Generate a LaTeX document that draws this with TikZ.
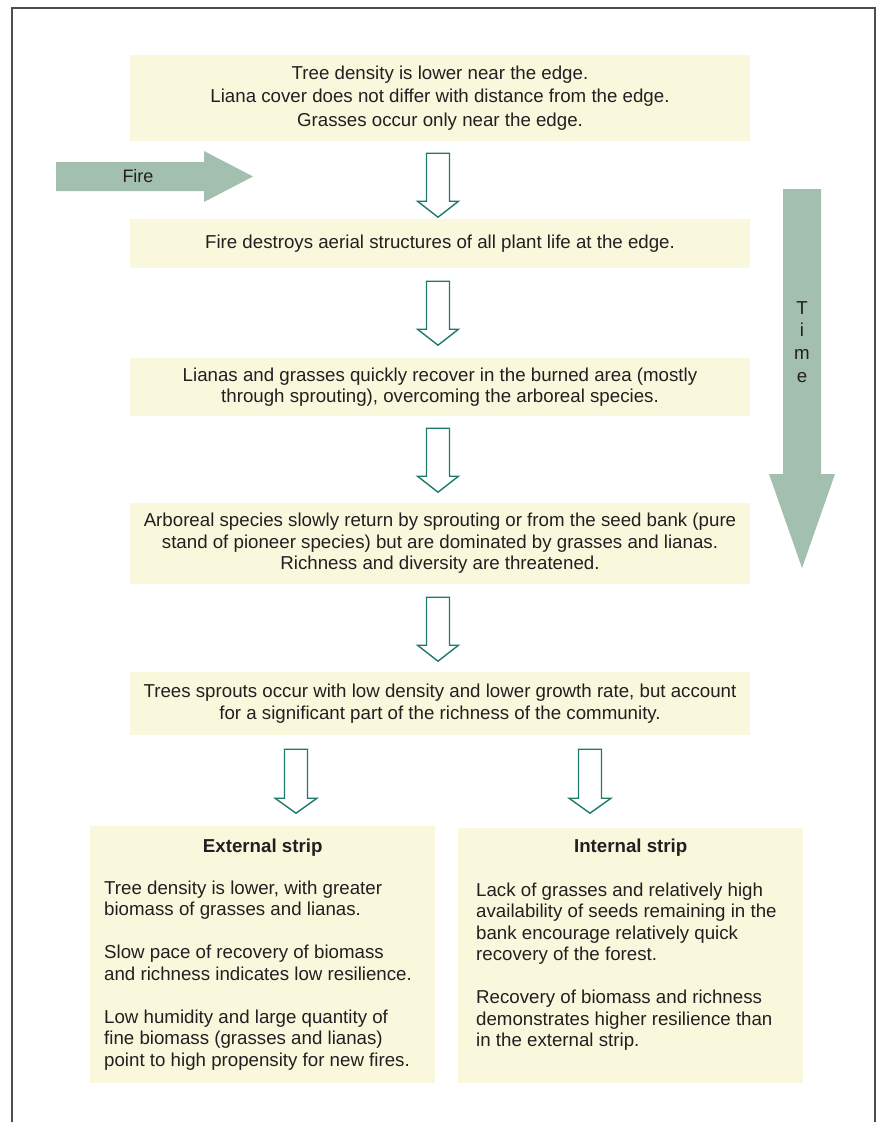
\documentclass[tikz,border=0pt]{standalone}
\usepackage{fontspec}
\setmainfont{Liberation Sans}
\usetikzlibrary{calc}
\definecolor{boxfill}{RGB}{249,248,221}
\definecolor{arrowgreen}{RGB}{163,191,176}
\definecolor{tealline}{RGB}{29,122,108}
\definecolor{txt}{RGB}{35,31,32}
\definecolor{framec}{RGB}{77,77,77}
\tikzset{
  pics/downarrow/.style={code={
    \draw[harrow] (-11.5,0) -- (11.5,0) -- (11.5,48) -- (20.5,48) -- (0,64)
      -- (-20.5,48) -- (-11.5,48) -- cycle;}},
  pics/downarrowb/.style={code={
    \draw[harrow] (-11.5,0) -- (11.5,0) -- (11.5,49) -- (21,49) -- (0,64)
      -- (-21,49) -- (-11.5,49) -- cycle;}}
}
\begin{document}
\begin{tikzpicture}[x=1pt,y=-1pt,
  box/.style={fill=boxfill, draw=none, inner sep=0pt, text=txt, align=center,
    font=\fontsize{18.7}{22}\selectfont},
  plain/.style={inner sep=0pt, text=txt, font=\fontsize{18.7}{21.5}\selectfont},
  titletext/.style={inner sep=0pt, text=txt, font=\fontsize{18.7}{21.5}\selectfont\bfseries},
  harrow/.style={draw=tealline, fill=white, line width=1.4pt, line join=miter},
  bigarrow/.style={fill=arrowgreen, draw=none}]
\useasboundingbox (0,0) rectangle (879,1122);

% frame
\coordinate (fbl) at (12,1130);
\coordinate (ftl) at (12,8);
\coordinate (ftr) at (875,8);
\coordinate (fbr) at (875,1130);
\draw[framec, line width=1.2pt] (fbl) -- (ftl) -- (ftr) -- (fbr);

% central boxes
\node[box, minimum width=620, minimum height=86, font=\fontsize{18.7}{23.5}\selectfont] (b1) at (440,98)
  {Tree density is lower near the edge.\\Liana cover does not differ with distance from the edge.\\Grasses occur only near the edge.};
\node[box, minimum width=620, minimum height=49] (b2) at (440,243.5)
  {Fire destroys aerial structures of all plant life at the edge.};
\node[box, minimum width=620, minimum height=58, font=\fontsize{18.7}{21}\selectfont] (b3) at (440,387)
  {Lianas and grasses quickly recover in the burned area (mostly\\through sprouting), overcoming the arboreal species.};
\node[box, minimum width=620, minimum height=81, font=\fontsize{18.7}{21.5}\selectfont] (b4) at (440,543.5)
  {Arboreal species slowly return by sprouting or from the seed bank (pure\\stand of pioneer species) but are dominated by grasses and lianas.\\Richness and diversity are threatened.};
\node[box, minimum width=620, minimum height=63] (b5) at (440,703.5)
  {Trees sprouts occur with low density and lower growth rate, but account\\for a significant part of the richness of the community.};

% bottom boxes
\node[box, minimum width=345, minimum height=257, anchor=north west] (ext) at (90,826) {};
\node[titletext, anchor=base] (extt) at ($(ext.north)+(0,26)$) {External strip};
\node[plain, anchor=base west] (extb) at ($(ext.north west)+(14,68)$)
  {\parbox[t]{325pt}{\raggedright
   Tree density is lower, with greater\\
   biomass of grasses and lianas.\\[21.5pt]
   Slow pace of recovery of biomass\\
   and richness indicates low resilience.\\[21.5pt]
   Low humidity and large quantity of\\
   fine biomass (grasses and lianas)\\
   point to high propensity for new fires.}};

\node[box, minimum width=345, minimum height=255, anchor=north west] (int) at (458,828) {};
\node[titletext, anchor=base] (intt) at ($(int.north)+(0,24)$) {Internal strip};
\node[plain, anchor=base west] (intb) at ($(int.north west)+(18,68)$)
  {\parbox[t]{320pt}{\raggedright
   Lack of grasses and relatively high\\
   availability of seeds remaining in the\\
   bank encourage relatively quick\\
   recovery of the forest.\\[21.5pt]
   Recovery of biomass and richness\\
   demonstrates higher resilience than\\
   in the external strip.}};

% hollow arrows
\pic at ($(b1.south)+(-2,12)$) {downarrow};
\pic at ($(b2.south)+(-2,13)$) {downarrow};
\pic at ($(b3.south)+(-2,12)$) {downarrow};
\pic at ($(b4.south)+(-2,13)$) {downarrow};
\coordinate (la) at ($(b5.south)+(-144,14)$);
\coordinate (ra) at ($(b5.south)+(150,14)$);
\pic at (la) {downarrowb};
\pic at (ra) {downarrowb};

% Fire arrow
\coordinate (fire0) at (56,162);
\fill[bigarrow] (fire0) -- (204,162) -- (204,151) -- (253,176.5) -- (204,202) -- (204,191) -- (56,191) -- cycle;
\node[plain, font=\fontsize{18}{20}\selectfont] (fire) at (138,176.5) {Fire};

% Time arrow
\coordinate (time0) at (783,189);
\fill[bigarrow] (time0) -- (821,189) -- (821,474) -- (835,474) -- (802,568) -- (769,474) -- (783,474) -- cycle;
\node[plain, align=center, font=\fontsize{18.7}{22.7}\selectfont] (time) at (802,342) {T\\i\\m\\e};
\end{tikzpicture}
\end{document}
